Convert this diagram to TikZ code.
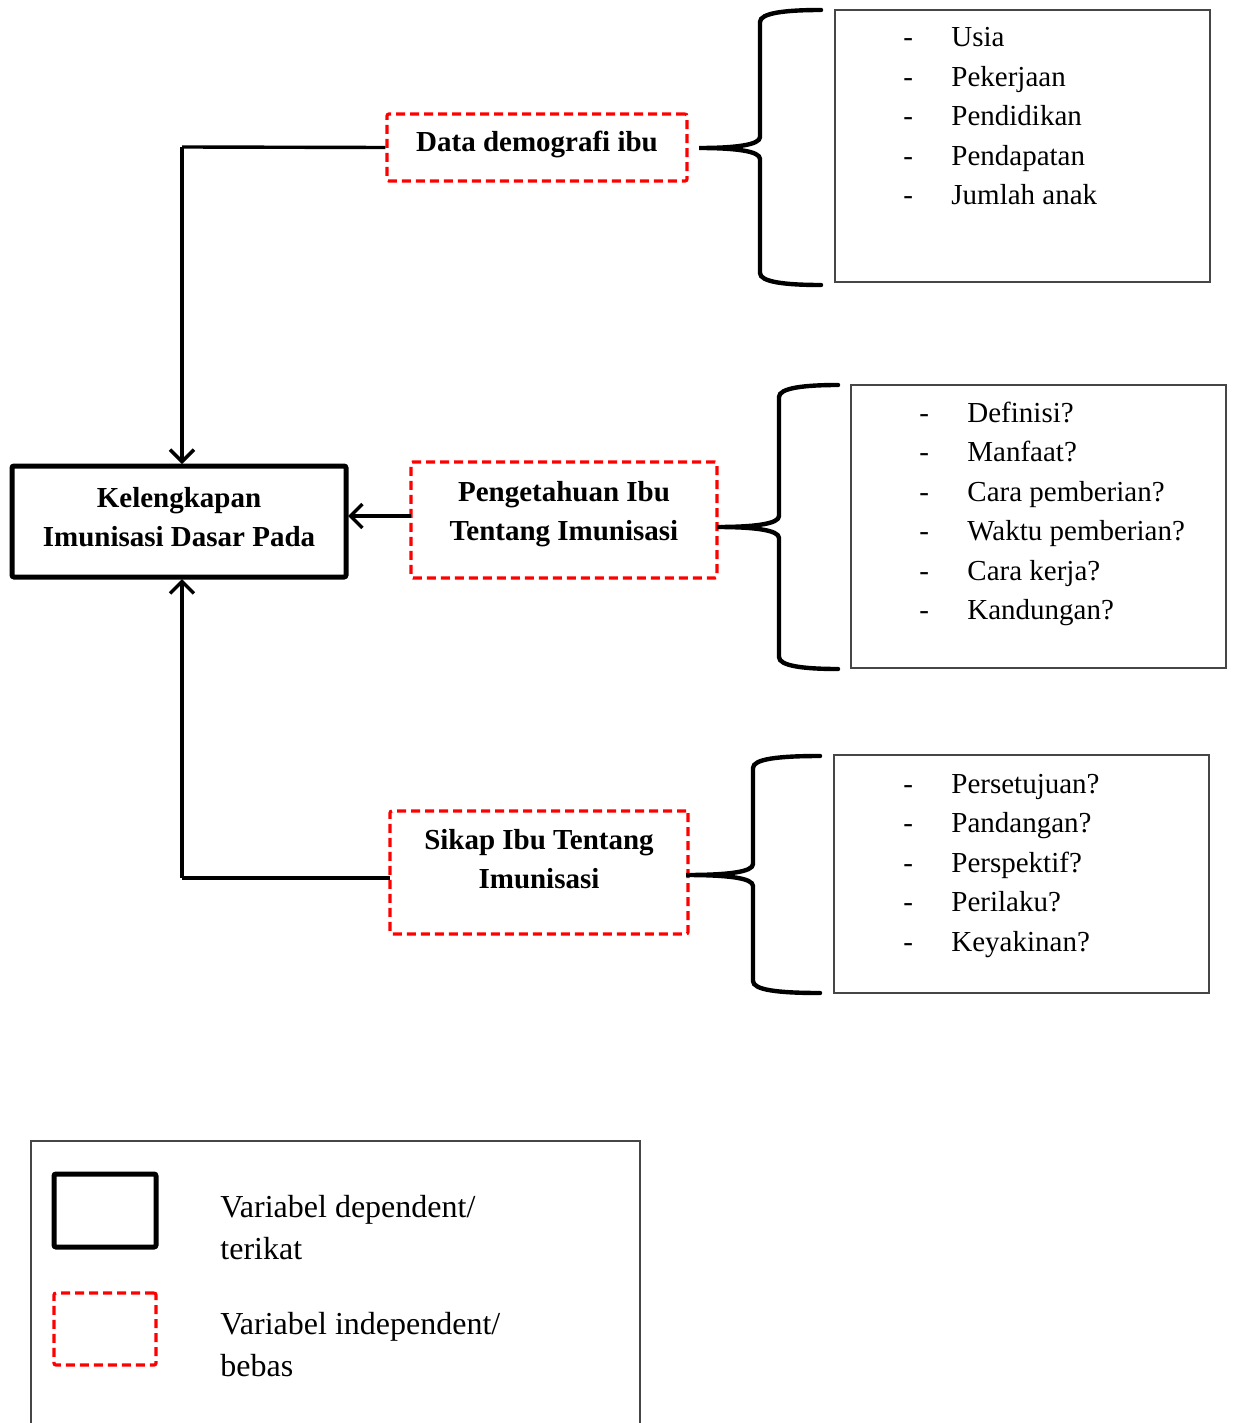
\documentclass[tikz,border=0pt]{standalone}
\usepackage{fontspec}
\setmainfont{Liberation Serif}
\usetikzlibrary{arrows.meta}
\definecolor{dred}{RGB}{255,0,0}
\definecolor{bgray}{RGB}{70,70,70}
\newcommand\curlybrace[6]{% tipx tipy spinex top bottom endx
  \draw[bracestyle] (#6,#4) .. controls (#3+25,#4) and (#3,#4+3) .. (#3,#4+12)
    -- (#3,#2-11) .. controls (#3,#2-3) and (#3-25,#2) .. (#1,#2)
    .. controls (#3-25,#2) and (#3,#2+3) .. (#3,#2+11)
    -- (#3,#5-12) .. controls (#3,#5-3) and (#3+25,#5) .. (#6,#5);}
\tikzset{
 varbox/.style={draw=dred, line width=1.6pt, dash pattern=on 4.5pt off 2.5pt, rounded corners=1pt, rectangle, inner sep=0pt},
 mainbox/.style={draw=black, line width=2.5pt, rounded corners=1pt, rectangle, inner sep=0pt},
 listbox/.style={draw=bgray, line width=0.6pt, rectangle, inner sep=0pt},
 conn/.style={line width=1.7pt, -{Straight Barb[length=6pt,width=12pt,line width=1.7pt]}},
 plainline/.style={line width=1.7pt},
 bracestyle/.style={line width=2.2pt, line cap=round},
 boldtxt/.style={font=\fontsize{14.5pt}{19.5pt}\selectfont\bfseries, align=center, inner sep=0pt, anchor=base},
 listtxt/.style={font=\fontsize{14.5pt}{19.75pt}\selectfont, align=left, inner sep=0pt, anchor=base west},
 legtxt/.style={font=\fontsize{16pt}{21pt}\selectfont, align=left, inner sep=0pt, anchor=base west},
}
\newcommand\lidash{\makebox[24pt][l]{-}}
\begin{document}
\begin{tikzpicture}[x=0.5pt,y=-0.5pt]
\useasboundingbox (0,0) rectangle (1232,1423);
% main dependent box
\node[mainbox, minimum width=167pt, minimum height=55.5pt] (m) at (179,521.5) {};
\node[boldtxt] (mt) at (179,546) {Kelengkapan\\Imunisasi Dasar Pada};
% independent boxes
\node[varbox, minimum width=150pt, minimum height=33.5pt] (d) at (537,147.5) {};
\node[boldtxt] (dt) at (537,152) {Data demografi ibu};
\node[varbox, minimum width=153pt, minimum height=58pt] (p) at (564,520) {};
\node[boldtxt] (pt) at (564,540) {Pengetahuan Ibu\\Tentang Imunisasi};
\node[varbox, minimum width=149pt, minimum height=61.5pt] (s) at (539,872.5) {};
\node[boldtxt] (st) at (539,888) {Sikap Ibu Tentang\\Imunisasi};
% connectors
\draw[plainline] (d.west) -- (182,147) coordinate (c1);
\draw[conn] (c1) -- (182,464) coordinate (m1);
\draw[conn] (411,516) coordinate (p1) -- (348,516) coordinate (m2);
\draw[plainline] (390,878) coordinate (s1) -- (182,878) coordinate (c3);
\draw[conn] (c3) -- (182,579) coordinate (m3);
% list boxes
\node[listbox, minimum width=187.5pt, minimum height=136pt] (l1) at (1022.5,146) {};
\node[listbox, minimum width=187.5pt, minimum height=141.5pt] (l2) at (1038.5,526.5) {};
\node[listbox, minimum width=187.5pt, minimum height=119pt] (l3) at (1021.5,874) {};
\node[listtxt] (l1t) at (903,205) {\lidash Usia\\\lidash Pekerjaan\\\lidash Pendidikan\\\lidash Pendapatan\\\lidash Jumlah anak};
\node[listtxt] (l2t) at (919,619.5) {\lidash Definisi?\\\lidash Manfaat?\\\lidash Cara pemberian?\\\lidash Waktu pemberian?\\\lidash Cara kerja?\\\lidash Kandungan?};
\node[listtxt] (l3t) at (903,951) {\lidash Persetujuan?\\\lidash Pandangan?\\\lidash Perspektif?\\\lidash Perilaku?\\\lidash Keyakinan?};
% braces
\curlybrace{699}{148}{760}{10}{285}{821}
\curlybrace{717}{527}{779}{385}{669}{838}
\curlybrace{686}{875}{753}{756}{993}{820}
% legend
\draw[draw=bgray, line width=0.6pt] (31,1423) -- (31,1141) -- (640,1141) -- (640,1423);
\node[mainbox, minimum width=51pt, minimum height=36.5pt] (ls) at (105,1210.5) {};
\node[varbox, minimum width=51pt, minimum height=36pt] (lv) at (105,1329) {};
\node[legtxt] (lst) at (220,1259) {Variabel dependent/\\terikat};
\node[legtxt] (lvt) at (220,1376) {Variabel independent/\\bebas};
\end{tikzpicture}
\end{document}
